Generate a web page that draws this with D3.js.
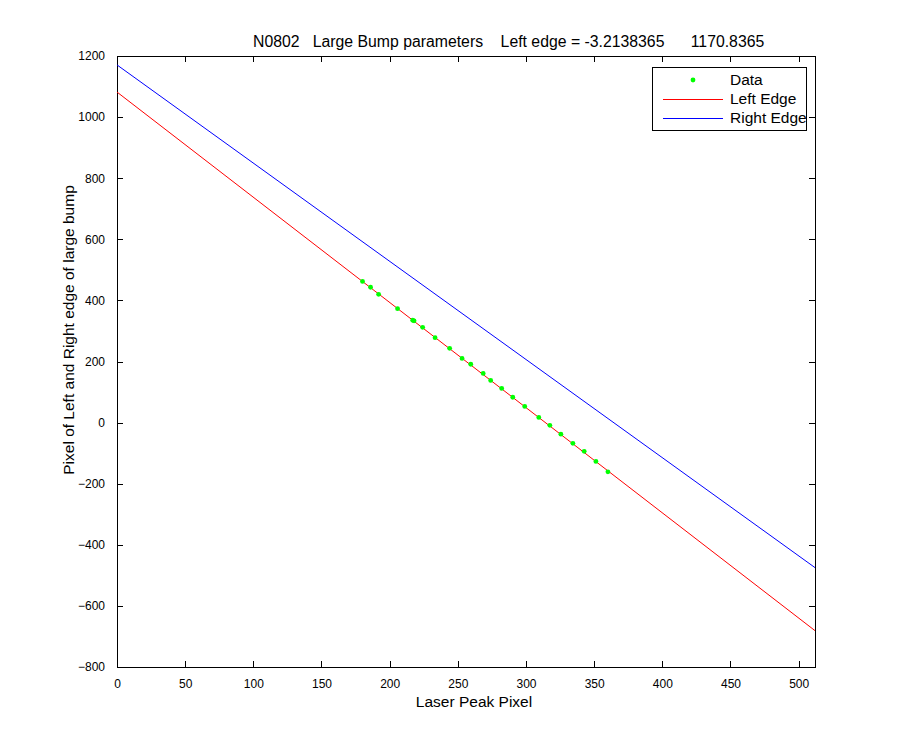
<!doctype html>
<html lang="en">
<head>
<meta charset="utf-8" />
<title>N0802 Large Bump parameters</title>
<script src="https://d3js.org/d3.v7.min.js"></script>
<style>
  body { margin: 0; background: #fff; }
  svg text { font-family: "Liberation Sans", Arial, sans-serif; fill: #000; }
</style>
</head>
<body>
<svg id="chart"></svg>
<script>
// values
const xTicks = [0, 50, 100, 150, 200, 250, 300, 350, 400, 450, 500];
const yTicks = [-800, -600, -400, -200, 0, 200, 400, 600, 800, 1000, 1200];

// laser peak pixel vs left edge pixel (green dots)
const dataX = [180.1, 186.0, 191.9, 205.8, 216.9, 217.9, 224.2, 233.3, 244.0, 253.1, 259.5, 268.6,
               274.1, 282.2, 290.3, 299.1, 309.4, 317.5, 325.6, 334.4, 342.7, 351.3, 360.1];
const dataY = [462, 443, 420, 373, 335, 333, 312, 278, 243, 210, 191, 161,
               138, 112, 83, 53, 17, -9, -38, -68, -94, -127, -161];

// fitted lines, end points at x = 0 and x = 512
const lineX = [0, 512];
const leftEdgeY = [1082, -681];
const rightEdgeY = [1170.8, -474.7];

const titleText = "N0802   Large Bump parameters    Left edge = -3.2138365      1170.8365";

const width = 900, height = 750;
const margin = {left: 117, right: 85, top: 56, bottom: 83};

const svg = d3.select("#chart")
    .attr("width", width)
    .attr("height", height);

const x = d3.scaleLinear().domain([0, 512]).range([margin.left, width - margin.right]);
const y = d3.scaleLinear().domain([-800, 1200]).range([height - margin.bottom, margin.top]);

// axes, MATLAB box style with inward ticks on all sides
const tickLen = 6;
const fmt = d3.format("d");
svg.append("g")
    .attr("transform", `translate(0,${y(-800)})`)
    .call(d3.axisBottom(x).tickValues(xTicks).tickFormat(fmt).tickSizeInner(-tickLen).tickSizeOuter(0).tickPadding(12))
    .call(g => g.select(".domain").remove());
svg.append("g")
    .attr("transform", `translate(0,${y(1200)})`)
    .call(d3.axisTop(x).tickValues(xTicks).tickSizeInner(-tickLen).tickSizeOuter(0).tickFormat(""))
    .call(g => g.select(".domain").remove());
svg.append("g")
    .attr("transform", `translate(${x(0)},0)`)
    .call(d3.axisLeft(y).tickValues(yTicks).tickFormat(fmt).tickSizeInner(-tickLen).tickSizeOuter(0).tickPadding(12))
    .call(g => g.select(".domain").remove());
svg.append("g")
    .attr("transform", `translate(${x(512)},0)`)
    .call(d3.axisRight(y).tickValues(yTicks).tickSizeInner(-tickLen).tickSizeOuter(0).tickFormat(""))
    .call(g => g.select(".domain").remove());

svg.selectAll(".tick text").style("font-size", "12px");
svg.selectAll(".tick line").attr("shape-rendering", "crispEdges");

svg.append("rect")
    .attr("x", x(0)).attr("y", y(1200))
    .attr("width", x(512) - x(0)).attr("height", y(-800) - y(1200))
    .attr("fill", "none").attr("stroke", "#000")
    .attr("shape-rendering", "crispEdges");

const plot = svg.append("g");

const line = d3.line()
    .x(d => x(d[0]))
    .y(d => y(d[1]));

plot.append("path")
    .datum(d3.zip(lineX, leftEdgeY))
    .attr("d", line)
    .attr("fill", "none").attr("stroke", "#ff0000").attr("stroke-width", 1);

plot.append("path")
    .datum(d3.zip(lineX, rightEdgeY))
    .attr("d", line)
    .attr("fill", "none").attr("stroke", "#0000ff").attr("stroke-width", 1);

plot.selectAll("circle")
    .data(d3.zip(dataX, dataY))
    .enter()
    .append("circle")
        .attr("cx", d => x(d[0]))
        .attr("cy", d => y(d[1]))
        .attr("r", 2.4)
        .attr("fill", "#00ff00");

// titles
svg.append("text")
    .attr("x", 253).attr("y", 47)
    .style("font-size", "15.8px")
    .style("white-space", "pre")
    .text(titleText);

svg.append("text")
    .attr("x", 474).attr("y", 707)
    .attr("text-anchor", "middle")
    .style("font-size", "15.5px")
    .text("Laser Peak Pixel");

svg.append("text")
    .attr("transform", `translate(74,330) rotate(-90)`)
    .attr("text-anchor", "middle")
    .style("font-size", "15.5px")
    .text("Pixel of Left and Right edge of large bump");

// legend
const legend = svg.append("g");
legend.append("rect")
    .attr("x", 652.5).attr("y", 67.5)
    .attr("width", 154).attr("height", 63)
    .attr("fill", "#fff").attr("stroke", "#000")
    .attr("shape-rendering", "crispEdges");

const legendItems = [
    {label: "Data", type: "dot", color: "#00ff00", y: 80},
    {label: "Left Edge", type: "line", color: "#ff0000", y: 99},
    {label: "Right Edge", type: "line", color: "#0000ff", y: 118}
];

legendItems.forEach(it => {
    if (it.type === "dot") {
        legend.append("circle")
            .attr("cx", 693).attr("cy", it.y).attr("r", 2.4)
            .attr("fill", it.color);
    } else {
        legend.append("line")
            .attr("x1", 663).attr("x2", 723)
            .attr("y1", it.y + 0.5).attr("y2", it.y + 0.5)
            .attr("stroke", it.color)
            .attr("shape-rendering", "crispEdges");
    }
    legend.append("text")
        .attr("x", 730).attr("y", it.y + 5)
        .style("font-size", "15.5px")
        .text(it.label);
});
</script>
</body>
</html>
